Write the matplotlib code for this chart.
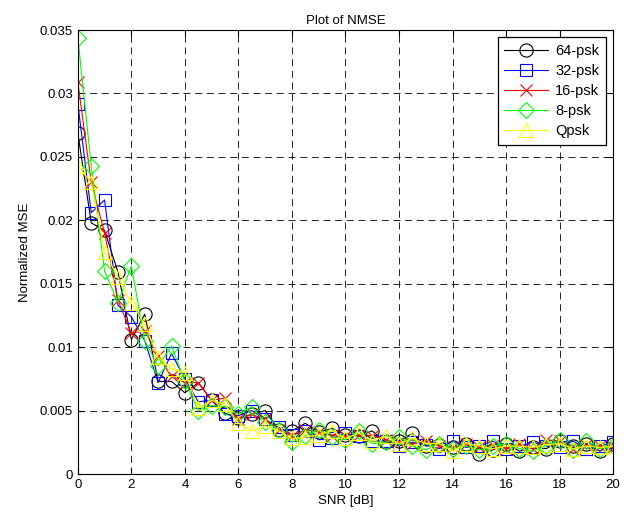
import numpy as np
import matplotlib.pyplot as plt

plt.rcParams['font.family'] = ['Liberation Sans', 'DejaVu Sans']

snr = np.arange(0, 20.5, 0.5)

psk64 = [0.0269, 0.0198, 0.0192, 0.0159, 0.0106, 0.0126, 0.0073, 0.0073, 0.0064, 0.0072,
         0.0058, 0.0048, 0.0044, 0.0047, 0.0050, 0.0035, 0.0034, 0.0040, 0.0033, 0.0036,
         0.0031, 0.0030, 0.0034, 0.0025, 0.0026, 0.0032, 0.0022, 0.0023, 0.0021, 0.0024,
         0.0016, 0.0019, 0.0024, 0.0018, 0.0021, 0.0020, 0.0026, 0.0022, 0.0024, 0.0018, 0.0024]
psk32 = [0.0292, 0.0206, 0.0216, 0.0133, 0.0124, 0.0105, 0.0072, 0.0095, 0.0075, 0.0057,
         0.0058, 0.0047, 0.0046, 0.0050, 0.0043, 0.0037, 0.0031, 0.0034, 0.0027, 0.0028,
         0.0032, 0.0030, 0.0026, 0.0026, 0.0022, 0.0025, 0.0023, 0.0020, 0.0026, 0.0021,
         0.0022, 0.0026, 0.0020, 0.0022, 0.0025, 0.0022, 0.0021, 0.0026, 0.0020, 0.0022, 0.0025]
psk16 = [0.0309, 0.0230, 0.0190, 0.0137, 0.0111, 0.0113, 0.0093, 0.0077, 0.0072, 0.0072,
         0.0058, 0.0060, 0.0043, 0.0047, 0.0043, 0.0035, 0.0030, 0.0035, 0.0033, 0.0030,
         0.0030, 0.0031, 0.0030, 0.0027, 0.0025, 0.0024, 0.0026, 0.0022, 0.0021, 0.0024,
         0.0021, 0.0023, 0.0020, 0.0024, 0.0020, 0.0027, 0.0026, 0.0020, 0.0023, 0.0022, 0.0021]
psk8 = [0.0344, 0.0243, 0.0160, 0.0135, 0.0164, 0.0105, 0.0085, 0.0101, 0.0073, 0.0050,
        0.0054, 0.0053, 0.0047, 0.0053, 0.0041, 0.0035, 0.0025, 0.0030, 0.0035, 0.0029,
        0.0027, 0.0034, 0.0024, 0.0025, 0.0029, 0.0022, 0.0019, 0.0024, 0.0020, 0.0022,
        0.0019, 0.0022, 0.0024, 0.0020, 0.0018, 0.0022, 0.0027, 0.0019, 0.0026, 0.0020, 0.0022]
qpsk = [0.0243, 0.0230, 0.0175, 0.0155, 0.0135, 0.0118, 0.0092, 0.0083, 0.0080, 0.0052,
        0.0058, 0.0055, 0.0040, 0.0034, 0.0038, 0.0034, 0.0028, 0.0029, 0.0031, 0.0034,
        0.0028, 0.0032, 0.0026, 0.0030, 0.0024, 0.0028, 0.0024, 0.0024, 0.0018, 0.0024,
        0.0022, 0.0020, 0.0022, 0.0022, 0.0021, 0.0023, 0.0024, 0.0020, 0.0022, 0.0021, 0.0022]

series = [('64-psk', psk64, 'k', 'o', 9.5),
          ('32-psk', psk32, '#0000ff', 's', 8.5),
          ('16-psk', psk16, '#ff0000', 'x', 8),
          ('8-psk', psk8, '#00ff00', 'D', 8),
          ('Qpsk', qpsk, '#ffff00', '^', 10)]

fig = plt.figure(figsize=(6.38, 5.13), dpi=100)
ax = fig.add_axes([0.122, 0.076, 0.839, 0.8655])

for name, vals, col, mk, ms in series:
    ax.plot(snr, vals, color=col, marker=mk, markersize=ms, markerfacecolor='none',
            markeredgecolor=col, linewidth=0.8, markeredgewidth=0.8, label=name)

ax.set_xlim(0, 20)
ax.set_ylim(0, 0.035)
ax.set_xticks(np.arange(0, 21, 2))
yt = np.arange(0, 0.0351, 0.005)
ax.set_yticks(yt)
ax.set_yticklabels(['0', '0.005', '0.01', '0.015', '0.02', '0.025', '0.03', '0.035'])
ax.tick_params(direction='in', top=True, right=True, labelsize=9.5, length=4)
ax.grid(True, color='k', linestyle=(0, (8.4, 5.6)), linewidth=0.6)
for s in ax.spines.values():
    s.set_linewidth(0.8)

ax.set_title('Plot of NMSE', fontsize=9.5, pad=4)
ax.set_xlabel('SNR [dB]', fontsize=9.5, labelpad=3)
ax.set_ylabel('Normalized MSE', fontsize=9.5, labelpad=6)

leg = ax.legend(loc='upper right', fontsize=10.5, fancybox=False, framealpha=1,
                edgecolor='k', handlelength=3.0, labelspacing=0.42, borderaxespad=0.5,
                handletextpad=0.5, borderpad=0.45)
leg.get_frame().set_linewidth(0.9)

fig.savefig('out.png', dpi=100)
